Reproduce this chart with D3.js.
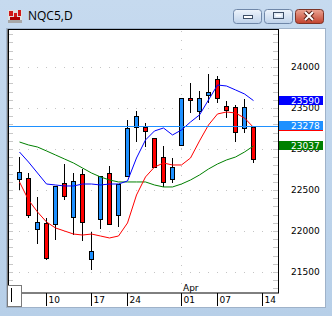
<!DOCTYPE html>
<html lang="en">
<head>
  <meta charset="UTF-8">
  <title>NQC5,D</title>
  <style>
  body { margin: 0; background: #b9d1ea; }
  svg { display: block; }
  text { font-family: "DejaVu Sans", sans-serif; font-size: 9px; }
  .title { font-family: "Open Sans", sans-serif; font-size: 12px; fill: #000; }
  </style>
</head>
<body>
  <svg width="332" height="316"></svg>
  <script src="https://d3js.org/d3.v7.min.js"></script>
  <script>

  // daily bars, Mar 05 .. Apr 11
  var opens  = [22634, 22646, 22024, 22098, 22085, 22585, 22171, 22695, 21659, 22146, 22707, 22195, 22671, 23268,
                23268, 23134, 22902, 22634, 23049, 23622, 23463, 23659, 23854, 23524, 23512, 23256, 23268];
  var highs  = [22902, 22707, 22415, 22159, 22549, 22817, 22707, 22756, 21988, 22671, 22793, 22573, 23354, 23463,
                23317, 23134, 23037, 22890, 23622, 23805, 23707, 23915, 23890, 23585, 23537, 23610, 23268];
  var lows   = [22512, 22171, 21854, 21659, 21902, 22390, 21963, 21890, 21537, 22037, 22085, 22061, 22671, 23098,
                23037, 22780, 22549, 22598, 23049, 23451, 23366, 23573, 23573, 23390, 23098, 23207, 22841];
  var closes = [22720, 22195, 22110, 21671, 22549, 22427, 22610, 22110, 21756, 22671, 22085, 22573, 23256, 23402,
                23220, 22780, 22598, 22780, 23622, 23598, 23622, 23695, 23622, 23476, 23207, 23512, 22878];

  // moving averages
  var maBlue  = [22963, 22841, 22707, 22573, 22561, 22549, 22549, 22573, 22573, 22561, 22573, 22573, 22610, 22890,
                 23110, 23220, 23256, 23171, 23232, 23329, 23415, 23598, 23780, 23768, 23720, 23671, 23590];
  var maRed   = [22598, 22378, 22232, 22110, 22037, 22000, 21963, 21951, 21963, 21939, 21915, 21939, 22098, 22439,
                 22659, 22780, 22829, 22805, 22805, 22890, 23098, 23293, 23427, 23451, 23439, 23378, 23263];
  var maGreen = [23085, 23049, 23024, 22976, 22927, 22878, 22829, 22768, 22707, 22659, 22622, 22598, 22598, 22598,
                 22598, 22561, 22537, 22537, 22573, 22622, 22683, 22756, 22817, 22866, 22902, 22963, 23037];

  var hLevel = 23278;
  var priceTicks = [21500, 22000, 22500, 23000, 23500, 24000];
  var dateTicks = [3, 8, 12, 18, 22, 27];
  var dateLabels = ['10', '17', '24', '01', '07', '14'];

  var svg = d3.select('svg');
  var defs = svg.append('defs');

  function gradient(id, c1, c2) {
    var g = defs.append('linearGradient').attr('id', id)
      .attr('x1', 0).attr('y1', 0).attr('x2', 0).attr('y2', 1);
    g.append('stop').attr('offset', '0%').attr('stop-color', c1);
    g.append('stop').attr('offset', '100%').attr('stop-color', c2);
  }
  gradient('frame', '#c6daef', '#b7cfe8');
  gradient('btn', '#eef4fb', '#bed2ea');
  gradient('btnClose', '#eba594', '#c2412c');

  // window frame
  svg.append('rect').attr('width', 332).attr('height', 316).attr('fill', 'url(#frame)');

  var icon = svg.append('g').attr('transform', 'translate(8,10)');
  icon.append('rect').attr('width', 14).attr('height', 13).attr('fill', '#e0e0e0');
  icon.append('rect').attr('x', 1).attr('y', 1).attr('width', 4).attr('height', 5).attr('fill', '#d01818');
  icon.append('rect').attr('x', 6).attr('y', 3).attr('width', 3).attr('height', 4).attr('fill', '#d01818');
  icon.append('rect').attr('x', 10).attr('y', 0).attr('width', 3).attr('height', 6).attr('fill', '#d01818');
  icon.append('rect').attr('x', 2).attr('y', 7).attr('width', 10).attr('height', 3).attr('fill', '#b00000');
  icon.append('rect').attr('x', 0).attr('y', 10).attr('width', 14).attr('height', 3).attr('fill', '#a8a8a8');

  svg.append('text').attr('class', 'title').attr('x', 28).attr('y', 20).text('NQC5,D');

  var buttons = [
    { x: 233, fill: 'url(#btn)', stroke: '#6f87a8' },
    { x: 264, fill: 'url(#btn)', stroke: '#6f87a8' },
    { x: 295, fill: 'url(#btnClose)', stroke: '#7c3326' }
  ];
  svg.selectAll('.btn').data(buttons).enter().append('rect')
    .attr('class', 'btn')
    .attr('x', function (d) { return d.x + 0.5; })
    .attr('y', 9.5)
    .attr('width', 28).attr('height', 14).attr('rx', 3)
    .attr('fill', function (d) { return d.fill; })
    .attr('stroke', function (d) { return d.stroke; });

  svg.append('rect').attr('x', 243.5).attr('y', 15.5).attr('width', 9).attr('height', 3)
    .attr('fill', '#fff').attr('stroke', '#3c4e66');
  svg.append('rect').attr('x', 273.5).attr('y', 12.5).attr('width', 10).attr('height', 6)
    .attr('fill', 'none').attr('stroke', '#3c4e66');
  svg.append('rect').attr('x', 275.5).attr('y', 14.5).attr('width', 6).attr('height', 2)
    .attr('fill', '#fff').attr('stroke', 'none');
  svg.append('path').attr('d', 'M305,12L313,20M313,12L305,20')
    .attr('stroke', '#5a2218').attr('stroke-width', 4);
  svg.append('path').attr('d', 'M305,12L313,20M313,12L305,20')
    .attr('stroke', '#fff').attr('stroke-width', 2);

  // client area
  svg.append('rect').attr('x', 6.5).attr('y', 28.5).attr('width', 319).attr('height', 279)
    .attr('fill', '#fff').attr('stroke', '#9fb2c9');

  var x = d3.scaleLinear().domain([-1.22, 28.78]).rangeRound([8, 278]);
  var y = d3.scaleLinear().domain([21244, 24463]).range([293, 29]);
  function py(v) { return Math.round(y(v)) + 0.5; }

  var plot = svg.append('g');

  // dotted grid
  plot.selectAll('.hgrid').data(priceTicks).enter().append('line')
    .attr('x1', 10).attr('x2', 277)
    .attr('y1', py).attr('y2', py)
    .attr('stroke', '#c4c4c4').attr('stroke-dasharray', '1,8');
  plot.append('line')
    .attr('x1', x(18) + 0.5).attr('x2', x(18) + 0.5)
    .attr('y1', 31).attr('y2', 292)
    .attr('stroke', '#c4c4c4').attr('stroke-dasharray', '1,8');

  // small ticks on both inner edges, every 100 points
  var minor = d3.range(21300, 24500, 100);
  plot.selectAll('.minl').data(minor).enter().append('line')
    .attr('x1', 9).attr('x2', 13).attr('y1', py).attr('y2', py)
    .attr('stroke', '#c8c8c8');
  plot.selectAll('.minr').data(minor).enter().append('line')
    .attr('x1', 273).attr('x2', 278).attr('y1', py).attr('y2', py)
    .attr('stroke', '#c8c8c8');

  // candles
  var bars = plot.selectAll('.bar').data(opens).enter().append('g');
  bars.append('line')
    .attr('x1', function (d, i) { return x(i) + 0.5; })
    .attr('x2', function (d, i) { return x(i) + 0.5; })
    .attr('y1', function (d, i) { return Math.round(y(highs[i])); })
    .attr('y2', function (d, i) { return Math.round(y(lows[i])) + 1; })
    .attr('stroke', '#000');
  bars.append('rect')
    .attr('x', function (d, i) { return x(i) - 1.5; })
    .attr('width', 4)
    .attr('y', function (d, i) { return py(Math.max(d, closes[i])); })
    .attr('height', function (d, i) {
      return Math.max(1, py(Math.min(d, closes[i])) - py(Math.max(d, closes[i])));
    })
    .attr('fill', function (d, i) { return closes[i] >= d ? '#1e90ff' : '#ff0000'; })
    .attr('stroke', '#000');

  // moving average lines
  var line = d3.line()
    .x(function (d, i) { return x(i) + 0.5; })
    .y(function (d) { return y(d); });
  [[maGreen, '#008000'], [maRed, '#ff0000'], [maBlue, '#0000ff']].forEach(function (m) {
    plot.append('path').datum(m[0]).attr('d', line)
      .attr('fill', 'none').attr('stroke', m[1]).attr('stroke-width', 1);
  });

  // horizontal level
  plot.append('line').attr('x1', 9).attr('x2', 278)
    .attr('y1', py(hLevel)).attr('y2', py(hLevel))
    .attr('stroke', '#1e90ff');

  // frame
  svg.append('line').attr('x1', 7.5).attr('x2', 7.5).attr('y1', 29).attr('y2', 293).attr('stroke', '#777');
  svg.append('rect').attr('x', 8.5).attr('y', 29.5).attr('width', 270).attr('height', 263.5)
    .attr('fill', 'none').attr('stroke', '#000');

  // price axis
  var yAxis = svg.append('g').attr('transform', 'translate(278,0)')
    .call(d3.axisRight(y).tickValues(priceTicks).tickSize(0).tickPadding(13).tickFormat(d3.format('d')));
  yAxis.select('.domain').remove();
  yAxis.selectAll('text').attr('fill', '#000').style('font-family', '"DejaVu Sans", sans-serif').style('font-size', '9px');

  // value labels on the price axis
  var labels = [
    { v: maBlue[maBlue.length - 1], c: '#0000ff' },
    { v: maRed[maRed.length - 1], c: '#ff0000' },
    { v: hLevel, c: '#1e90ff' },
    { v: maGreen[maGreen.length - 1], c: '#008000' }
  ];
  var lab = svg.selectAll('.lab').data(labels).enter().append('g')
    .attr('transform', function (d) { return 'translate(279,' + Math.round(y(d.v)) + ')'; });
  lab.append('rect').attr('x', 0).attr('y', -5).attr('width', 44).attr('height', 9)
    .attr('fill', function (d) { return d.c; });
  lab.append('text').attr('x', 12).attr('y', 0).attr('dy', '0.35em')
    .attr('fill', '#fff').text(function (d) { return d.v; });

  // date axis
  var xAxis = svg.append('g').attr('transform', 'translate(0,293)')
    .call(d3.axisBottom(x).tickValues(dateTicks).tickSize(13)
      .tickFormat(function (d, i) { return dateLabels[i]; }));
  xAxis.select('.domain').remove();
  xAxis.selectAll('line').attr('stroke', '#000');
  xAxis.selectAll('text')
    .attr('x', 2).attr('y', 7).attr('dy', '0.35em')
    .attr('text-anchor', 'start').attr('fill', '#000')
    .style('font-family', '"DejaVu Sans", sans-serif').style('font-size', '9px');

  svg.append('text').attr('x', 183).attr('y', 291).text('Apr');

  // little scroll box, bottom left
  svg.append('rect').attr('x', 7.5).attr('y', 285.5).attr('width', 14).attr('height', 21)
    .attr('fill', '#fff').attr('stroke', '#7a7a7a');
  svg.append('line').attr('x1', 11.5).attr('x2', 11.5).attr('y1', 288).attr('y2', 302)
    .attr('stroke', '#000');
  </script>
</body>
</html>
